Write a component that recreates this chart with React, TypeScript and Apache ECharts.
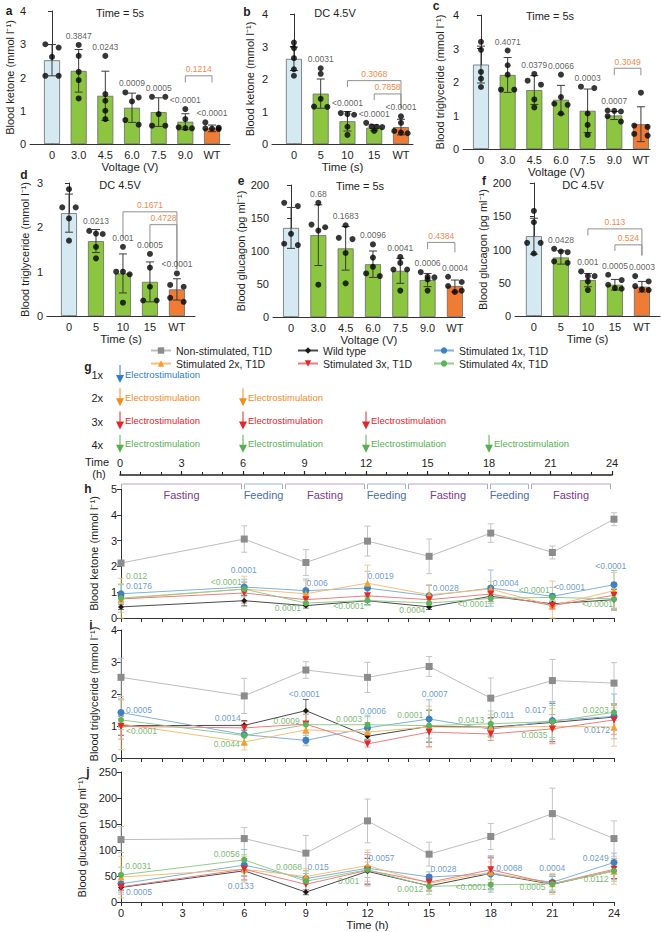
import React, { useEffect, useRef } from 'react';
import * as echarts from 'echarts';

const FONT = '"Liberation Sans", Arial, Helvetica, sans-serif';
const INK = '#1e1e1e';

// ---------------- categories ----------------
const voltageCategories = ['0', '3.0', '4.5', '6.0', '7.5', '9.0', 'WT'];
const dcTimeCategories = ['0', '5', '10', '15', 'WT'];

// ---------------- panel a: ketone vs voltage ----------------
const ketoneVoltMean = [2.52, 2.2, 1.45, 1.09, 0.96, 0.67, 0.47];
const ketoneVoltSD = [0.47, 0.64, 0.74, 0.44, 0.43, 0.24, 0.1];
const ketoneVoltPoints = [
  [3.0, 2.9, 2.62, 2.05, 2.05],
  [2.98, 2.65, 2.17, 1.92, 1.37],
  [2.65, 1.5, 1.3, 1.0, 0.75],
  [1.55, 1.4, 1.28, 0.72, 0.58],
  [1.42, 1.42, 0.9, 0.55, 0.55],
  [1.05, 0.75, 0.5, 0.48, 0.47],
  [0.65, 0.49, 0.47, 0.46, 0.45],
];
const ketoneVoltP = ['', '0.3847', '0.0243', '0.0009', '0.0005', '<0.0001', '<0.0001'];
const ketoneVoltBrackets = [{ from: 5, to: 6, y: 2.05, left: 1.85, right: 1.85, text: '0.1214' }];

// ---------------- panel b: ketone vs DC time ----------------
const ketoneDcMean = [2.62, 1.55, 0.7, 0.5, 0.52];
const ketoneDcSD = [0.36, 0.45, 0.3, 0.09, 0.24];
const ketoneDcPoints = [
  [3.12, 2.95, 2.64, 2.3, 2.1],
  [2.33, 2.16, 1.39, 1.15, 1.14],
  [0.95, 0.92, 0.9, 0.53, 0.28],
  [0.65, 0.54, 0.53, 0.52, 0.4],
  [0.85, 0.65, 0.4, 0.35, 0.33],
];
const ketoneDcP = ['', '0.0031', '<0.0001', '<0.0001', '<0.0001'];
const ketoneDcBrackets = [
  { from: 2, to: 4, y: 1.95, left: 1.75, right: 1.1, text: '0.3068' },
  { from: 3, to: 4, y: 1.54, left: 1.35, right: 1.1, text: '0.7858' },
];

// ---------------- panel c: triglyceride vs voltage ----------------
const trigVoltMean = [2.52, 2.21, 1.76, 1.47, 1.14, 1.0, 0.74];
const trigVoltSD = [0.55, 0.52, 0.43, 0.43, 0.65, 0.12, 0.52];
const trigVoltPoints = [
  [3.2, 2.96, 2.3, 2.1, 1.85],
  [2.94, 2.5, 2.22, 1.77, 1.77],
  [2.24, 2.04, 1.92, 1.48, 1.24],
  [2.22, 1.55, 1.35, 1.32, 1.06],
  [1.86, 1.82, 1.06, 0.72, 0.42],
  [1.15, 1.14, 1.12, 0.98, 0.82],
  [1.68, 0.7, 0.66, 0.45, 0.4],
];
const trigVoltP = ['', '0.4071', '0.0379', '0.0066', '0.0003', '0.0007', ''];
const trigVoltBrackets = [{ from: 5, to: 6, y: 2.41, left: 2.2, right: 2.2, text: '0.3049' }];

// ---------------- panel d: triglyceride vs DC time ----------------
const trigDcMean = [2.32, 1.69, 0.96, 0.77, 0.6];
const trigDcSD = [0.43, 0.26, 0.44, 0.45, 0.24];
const trigDcPoints = [
  [2.86, 2.45, 2.45, 2.2, 1.7],
  [1.92, 1.86, 1.85, 1.56, 1.3],
  [1.56, 1.0, 1.0, 0.94, 0.3],
  [1.4, 1.09, 0.66, 0.35, 0.35],
  [0.96, 0.7, 0.66, 0.41, 0.32],
];
const trigDcP = ['', '0.0213', '0.001', '0.0005', '<0.0001'];
const trigDcBrackets = [
  { from: 2, to: 4, y: 2.35, left: 1.75, right: 1.05, text: '0.1671' },
  { from: 3, to: 4, y: 2.06, left: 1.55, right: 1.05, text: '0.4728' },
];

// ---------------- panel e: glucagon vs voltage ----------------
const glucVoltMean = [135, 124, 104, 80, 70, 56, 47];
const glucVoltSD = [31, 46, 33, 20, 19, 10, 9];
const glucVoltPoints = [
  [173, 168, 126, 111, 109],
  [173, 140, 136, 131, 49],
  [139, 120, 118, 97, 51],
  [110, 90, 76, 66, 62],
  [91, 82, 72, 72, 40],
  [68, 61, 60, 57, 40],
  [61, 53, 47, 40, 38],
];
const glucVoltP = ['', '0.68', '0.1683', '0.0096', '0.0041', '0.0006', '0.0004'];
const glucVoltBrackets = [{ from: 5, to: 6, y: 113, left: 103, right: 98, text: '0.4384' }];

// ---------------- panel f: glucagon vs DC time ----------------
const glucDcMean = [120, 88, 54, 47, 44];
const glucDcSD = [27, 10, 10, 8, 8];
const glucDcPoints = [
  [158, 141, 110, 110, 94],
  [101, 97, 96, 82, 80],
  [67, 60, 60, 52, 39],
  [62, 54, 47, 42, 41],
  [60, 52, 45, 40, 39],
];
const glucDcP = ['', '0.0428', '0.001', '0.0005', '0.0003'];
const glucDcBrackets = [
  { from: 2, to: 4, y: 131, left: 121, right: 91, text: '0.113' },
  { from: 3, to: 4, y: 107, left: 98, right: 91, text: '0.524' },
];

// ---------------- panel g: protocol ----------------
const protocolRows = ['1x', '2x', '3x', '4x'];
const stimulationTimes = [[0], [0, 6], [0, 6, 12], [0, 6, 12, 18]];
const periods = [
  [0, 6, 'Fasting'], [6, 8, 'Feeding'], [8, 12, 'Fasting'], [12, 14, 'Feeding'],
  [14, 18, 'Fasting'], [18, 20, 'Feeding'], [20, 24, 'Fasting'],
];

// ---------------- panels h, i, j: 24 h time courses ----------------
const hours = [0, 6, 9, 12, 15, 18, 21, 24];
const groupNames = [
  'Non-stimulated, T1D', 'Wild type', 'Stimulated 1x, T1D',
  'Stimulated 2x, T1D', 'Stimulated 3x, T1D', 'Stimulated 4x, T1D',
];

const ketoneNonStim = [2.13, 3.06, 2.15, 2.98, 2.39, 3.29, 2.54, 3.83];
const ketoneWT = [0.43, 0.67, 0.48, 0.67, 0.43, 0.84, 0.55, 0.71];
const ketoneS1 = [0.94, 1.2, 1.06, 1.16, 0.86, 1.16, 0.84, 1.29];
const ketoneS2 = [0.74, 1.12, 0.94, 1.35, 0.9, 1.12, 0.48, 1.06];
const ketoneS3 = [0.74, 0.97, 0.71, 0.86, 0.71, 0.93, 0.48, 0.88];
const ketoneS4 = [0.77, 1.12, 0.58, 0.68, 0.58, 0.76, 0.8, 0.74];
const ketoneNonStimSD = [0.1, 0.51, 0.5, 0.58, 0.67, 0.36, 0.25, 0.25];
const ketoneWTSD = [0.1, 0.2, 0.1, 0.15, 0.1, 0.2, 0.1, 0.4];
const ketoneS1SD = [0.35, 0.3, 0.45, 0.65, 0.4, 0.7, 0.35, 0.55];
const ketoneS2SD = [0.8, 0.5, 0.5, 0.7, 0.4, 0.3, 0.95, 0.7];
const ketoneS3SD = [0.2, 0.4, 0.2, 0.25, 0.15, 0.3, 0.15, 0.5];
const ketoneS4SD = [0.55, 0.3, 0.2, 0.2, 0.15, 0.2, 0.15, 0.4];
const ketoneLabels = [
  { t: 0.27, v: 1.59, text: '0.012', c: 'g', a: 'left' },
  { t: 0.27, v: 1.23, text: '0.0176', c: 'b', a: 'left' },
  { t: 6, v: 1.85, text: '0.0001', c: 'b', a: 'center' },
  { t: 5.9, v: 1.38, text: '<0.0001', c: 'g', a: 'right' },
  { t: 9.05, v: 1.32, text: '0.006', c: 'b', a: 'left' },
  { t: 8.78, v: 0.35, text: '0.0001', c: 'g', a: 'right' },
  { t: 12.03, v: 1.59, text: '0.0019', c: 'b', a: 'left' },
  { t: 11.87, v: 0.45, text: '<0.0001', c: 'g', a: 'right' },
  { t: 15.2, v: 1.14, text: '0.0028', c: 'b', a: 'left' },
  { t: 14.84, v: 0.3, text: '0.0004', c: 'g', a: 'right' },
  { t: 18.12, v: 1.35, text: '0.0004', c: 'b', a: 'left' },
  { t: 17.92, v: 0.54, text: '<0.0001', c: 'g', a: 'right' },
  { t: 20.9, v: 1.07, text: '<0.0001', c: 'g', a: 'right' },
  { t: 21.1, v: 1.2, text: '<0.0001', c: 'b', a: 'left' },
  { t: 23.87, v: 2.0, text: '<0.0001', c: 'b', a: 'center' },
  { t: 23.98, v: 0.52, text: '<0.0001', c: 'g', a: 'right' },
];

const trigNonStim = [2.52, 1.94, 2.75, 2.52, 2.86, 1.87, 2.42, 2.34];
const trigWT = [1.01, 1.02, 1.48, 0.68, 0.99, 0.96, 1.11, 1.28];
const trigS1 = [1.42, 0.73, 0.55, 0.94, 1.22, 0.9, 1.17, 1.3];
const trigS2 = [1.06, 0.5, 0.88, 0.81, 0.97, 0.95, 0.99, 0.97];
const trigS3 = [0.99, 0.94, 1.06, 0.44, 0.81, 0.75, 0.91, 1.19];
const trigS4 = [1.19, 0.7, 1.04, 1.04, 1.01, 1.07, 1.14, 1.43];
const trigNonStimSD = [0.6, 0.55, 0.26, 0.47, 0.31, 0.63, 0.66, 0.64];
const trigWTSD = [0.3, 0.15, 0.35, 0.1, 0.5, 0.3, 0.6, 0.4];
const trigS1SD = [0.4, 0.3, 0.15, 0.35, 0.6, 0.2, 0.6, 0.7];
const trigS2SD = [0.8, 0.25, 0.5, 0.3, 0.65, 0.4, 0.55, 0.6];
const trigS3SD = [0.4, 0.2, 0.3, 0.1, 0.45, 0.2, 0.45, 0.45];
const trigS4SD = [0.3, 0.3, 0.4, 0.3, 0.5, 0.4, 0.5, 0.25];
const trigLabels = [
  { t: 0.27, v: 1.5, text: '0.0005', c: 'b', a: 'left' },
  { t: 0.27, v: 0.83, text: '<0.0001', c: 'g', a: 'left' },
  { t: 5.85, v: 1.25, text: '0.0014', c: 'b', a: 'right' },
  { t: 5.8, v: 0.42, text: '0.0044', c: 'g', a: 'right' },
  { t: 8.72, v: 1.14, text: '0.0009', c: 'g', a: 'right' },
  { t: 8.95, v: 2.0, text: '<0.0001', c: 'b', a: 'center' },
  { t: 11.76, v: 1.19, text: '0.0003', c: 'g', a: 'right' },
  { t: 11.66, v: 1.45, text: '0.0006', c: 'b', a: 'left' },
  { t: 14.74, v: 1.32, text: '0.0001', c: 'g', a: 'right' },
  { t: 15.3, v: 2.0, text: '0.0007', c: 'b', a: 'center' },
  { t: 17.71, v: 1.17, text: '0.0413', c: 'g', a: 'right' },
  { t: 18.16, v: 1.32, text: '0.011', c: 'b', a: 'left' },
  { t: 20.73, v: 1.5, text: '0.017', c: 'b', a: 'right' },
  { t: 20.79, v: 0.7, text: '0.0035', c: 'g', a: 'right' },
  { t: 23.77, v: 1.47, text: '0.0203', c: 'g', a: 'right' },
  { t: 23.83, v: 0.85, text: '0.0172', c: 'b', a: 'right' },
];

const glucNonStim = [120, 122, 94, 156, 92, 126, 170, 122];
const glucWT = [28, 60, 19, 59, 31, 55, 34, 60];
const glucS1 = [35, 71, 45, 65, 48, 54, 38, 76];
const glucS2 = [48, 63, 49, 70, 36, 57, 35, 59];
const glucS3 = [29, 63, 34, 61, 38, 62, 35, 63];
const glucS4 = [52, 81, 40, 62, 30, 33, 35, 60];
const glucNonStimSD = [25, 21, 34, 42, 23, 25, 49, 34];
const glucWTSD = [5, 10, 5, 25, 10, 30, 15, 15];
const glucS1SD = [20, 30, 10, 30, 10, 35, 15, 18];
const glucS2SD = [40, 25, 15, 30, 15, 20, 20, 25];
const glucS3SD = [10, 20, 10, 30, 15, 25, 15, 20];
const glucS4SD = [15, 10, 20, 15, 15, 10, 15, 20];
const glucLabels = [
  { t: 0.23, v: 68, text: '0.0031', c: 'g', a: 'left' },
  { t: 0.27, v: 18.5, text: '0.0005', c: 'b', a: 'left' },
  { t: 5.8, v: 90.5, text: '0.0056', c: 'g', a: 'right' },
  { t: 5.85, v: 29, text: '0.0133', c: 'b', a: 'center' },
  { t: 8.83, v: 67, text: '0.0068', c: 'g', a: 'right' },
  { t: 9.1, v: 67, text: '0.015', c: 'b', a: 'left' },
  { t: 12.07, v: 83, text: '0.0057', c: 'b', a: 'left' },
  { t: 11.62, v: 40, text: '0.001', c: 'g', a: 'right' },
  { t: 15.09, v: 62, text: '0.0028', c: 'b', a: 'left' },
  { t: 14.74, v: 25, text: '0.0012', c: 'g', a: 'right' },
  { t: 18.29, v: 65, text: '0.0068', c: 'b', a: 'left' },
  { t: 17.82, v: 27, text: '<0.0001', c: 'g', a: 'right' },
  { t: 21.02, v: 65, text: '0.0004', c: 'b', a: 'center' },
  { t: 20.69, v: 27, text: '0.0005', c: 'g', a: 'right' },
  { t: 23.77, v: 84, text: '0.0249', c: 'b', a: 'right' },
  { t: 23.77, v: 43, text: '0.0112', c: 'g', a: 'right' },
];

// ---------------- styles / layout ----------------
const groupStyles = [
  { symbol: 'rect', size: 7, rotate: 0, marker: '#8c8c8c', line: '#bdbdbd', err: '#c4c4c4' },
  { symbol: 'diamond', size: 6, rotate: 0, marker: '#1a1a1a', line: '#4a4a4a', err: '#6a6a6a' },
  { symbol: 'circle', size: 7, rotate: 0, marker: '#3a82c4', line: '#7fb0dc', err: '#98c0e2' },
  { symbol: 'triangle', size: 7, rotate: 0, marker: '#f4a02e', line: '#f4bf73', err: '#f3c88c' },
  { symbol: 'triangle', size: 7, rotate: 180, marker: '#e2282d', line: '#ea7f80', err: '#ef9b9b' },
  { symbol: 'circle', size: 6, rotate: 0, marker: '#5cb35a', line: '#93cc8f', err: '#a6d5a3' },
];
const labelColors: Record<string, string> = { b: '#3f82c4', g: '#55a84b' };
const rowColors = ['#2f7dc2', '#f28c1f', '#e1262c', '#56b052'];
const periodColors: Record<string, [string, string]> = {
  Fasting: ['#7b3b8e', '#bba1c9'],
  Feeding: ['#4a6fa8', '#9fb3d4'],
};

type Bracket = { from: number; to: number; y: number; left: number; right: number; text: string };
type BarPanel = {
  cats: string[]; means: number[]; sds: number[]; points: number[][]; pvals: string[];
  brackets: Bracket[]; ymax: number; yint: number; yname: string; xname: string;
  grid: { left: number; top: number; width: number; height: number };
  xmin: number; xmax: number; nameGap: number; xNameGap: number;
};

const barPanels: BarPanel[] = [
  { cats: voltageCategories, means: ketoneVoltMean, sds: ketoneVoltSD, points: ketoneVoltPoints, pvals: ketoneVoltP, brackets: ketoneVoltBrackets,
    ymax: 4, yint: 1, yname: 'Blood ketone (mmol l⁻¹)', xname: 'Voltage (V)',
    grid: { left: 30, top: 11, width: 200, height: 133 }, xmin: -0.825, xmax: 6.675, nameGap: 13, xNameGap: 15 },
  { cats: dcTimeCategories, means: ketoneDcMean, sds: ketoneDcSD, points: ketoneDcPoints, pvals: ketoneDcP, brackets: ketoneDcBrackets,
    ymax: 4, yint: 1, yname: 'Blood ketone (mmol l⁻¹)', xname: 'Time (s)',
    grid: { left: 272, top: 14, width: 141, height: 130 }, xmin: -0.82, xmax: 4.45, nameGap: 17, xNameGap: 16 },
  { cats: voltageCategories, means: trigVoltMean, sds: trigVoltSD, points: trigVoltPoints, pvals: trigVoltP, brackets: trigVoltBrackets,
    ymax: 4, yint: 1, yname: 'Blood triglyceride (mmol l⁻¹)', xname: 'Voltage (V)',
    grid: { left: 463, top: 15, width: 187, height: 134 }, xmin: -0.675, xmax: 6.34, nameGap: 18, xNameGap: 15 },
  { cats: dcTimeCategories, means: trigDcMean, sds: trigDcSD, points: trigDcPoints, pvals: trigDcP, brackets: trigDcBrackets,
    ymax: 3, yint: 1, yname: 'Blood triglyceride (mmol l⁻¹)', xname: 'Time (s)',
    grid: { left: 47, top: 183, width: 148, height: 133 }, xmin: -0.815, xmax: 4.67, nameGap: 17, xNameGap: 13 },
  { cats: voltageCategories, means: glucVoltMean, sds: glucVoltSD, points: glucVoltPoints, pvals: glucVoltP, brackets: glucVoltBrackets,
    ymax: 200, yint: 50, yname: 'Blood glucagon (pg ml⁻¹)', xname: 'Voltage (V)',
    grid: { left: 273, top: 185, width: 192, height: 132 }, xmin: -0.66, xmax: 6.37, nameGap: 22, xNameGap: 12 },
  { cats: dcTimeCategories, means: glucDcMean, sds: glucDcSD, points: glucDcPoints, pvals: glucDcP, brackets: glucDcBrackets,
    ymax: 200, yint: 50, yname: 'Blood glucagon (pg ml⁻¹)', xname: 'Time (s)',
    grid: { left: 515, top: 183, width: 145, height: 133 }, xmin: -0.7, xmax: 4.67, nameGap: 21, xNameGap: 13 },
];

const tsPanels = [
  { series: [ketoneNonStim, ketoneWT, ketoneS1, ketoneS2, ketoneS3, ketoneS4],
    sds: [ketoneNonStimSD, ketoneWTSD, ketoneS1SD, ketoneS2SD, ketoneS3SD, ketoneS4SD],
    labels: ketoneLabels, ymax: 5, yint: 1, yname: 'Blood ketone (mmol l⁻¹)',
    grid: { left: 121, top: 489, width: 493, height: 129 }, nameGap: 22 },
  { series: [trigNonStim, trigWT, trigS1, trigS2, trigS3, trigS4],
    sds: [trigNonStimSD, trigWTSD, trigS1SD, trigS2SD, trigS3SD, trigS4SD],
    labels: trigLabels, ymax: 4, yint: 1, yname: 'Blood triglyceride (mmol l⁻¹)',
    grid: { left: 121, top: 630, width: 493, height: 128 }, nameGap: 22 },
  { series: [glucNonStim, glucWT, glucS1, glucS2, glucS3, glucS4],
    sds: [glucNonStimSD, glucWTSD, glucS1SD, glucS2SD, glucS3SD, glucS4SD],
    labels: glucLabels, ymax: 250, yint: 50, yname: 'Blood glucagon (pg ml⁻¹)',
    grid: { left: 121, top: 772, width: 493, height: 130 }, nameGap: 24 },
];

// ---------------- helpers ----------------
function swarm(vals: number[], pxPerUnit: number): number[] {
  const order = vals.map((_, i) => i).sort((a, b) => vals[b] - vals[a]);
  const offs = new Array(vals.length).fill(0);
  let cluster: number[] = [];
  const flush = () => {
    const k = cluster.length;
    if (k < 2) return;
    const step = Math.min(k === 2 ? 0.5 : 0.25, 0.6 / (k - 1));
    cluster.forEach((id, j) => { offs[id] = (j - (k - 1) / 2) * step; });
  };
  order.forEach((id) => {
    if (cluster.length && (vals[cluster[0]] - vals[id]) * pxPerUnit > 5.5) {
      flush();
      cluster = [];
    }
    cluster.push(id);
  });
  flush();
  return offs;
}

const errRender = (color: string, cap: number) => (params: any, api: any) => {
  const x = api.value(0), m = api.value(1), s = api.value(2);
  const t = api.coord([x, m + s]);
  const b = api.coord([x, Math.max(0, m - s)]);
  const st = { stroke: color, lineWidth: 1 };
  return {
    type: 'group',
    children: [
      { type: 'line', shape: { x1: t[0], y1: t[1], x2: b[0], y2: b[1] }, style: st },
      { type: 'line', shape: { x1: t[0] - cap, y1: t[1], x2: t[0] + cap, y2: t[1] }, style: st },
      { type: 'line', shape: { x1: b[0] - cap, y1: b[1], x2: b[0] + cap, y2: b[1] }, style: st },
    ],
  };
};

const bracketRender = (brs: Bracket[]) => (params: any, api: any) => {
  const b = brs[params.dataIndex];
  const a = api.coord([b.from, b.y]);
  const c = api.coord([b.to, b.y]);
  const la = api.coord([b.from, b.left]);
  const rc = api.coord([b.to, b.right]);
  return {
    type: 'group',
    children: [
      { type: 'polyline', shape: { points: [[la[0], la[1]], [a[0], a[1]], [c[0], c[1]], [rc[0], rc[1]]] },
        style: { stroke: '#8f8f8f', lineWidth: 1, fill: 'none' } },
      { type: 'text', x: (a[0] + c[0]) / 2, y: a[1] - 2,
        style: { text: b.text, fill: '#ee8a4d', fontSize: 8.5, fontFamily: FONT, align: 'center', verticalAlign: 'bottom' } },
    ],
  };
};

function buildOption() {
  const grid: any[] = [];
  const xAxis: any[] = [];
  const yAxis: any[] = [];
  const series: any[] = [];
  const axisLine = { show: true, lineStyle: { color: '#333', width: 1 } };
  const labelStyle = { fontSize: 11, color: INK, fontFamily: FONT };

  barPanels.forEach((p, gi) => {
    grid.push({ ...p.grid });
    const idx = p.cats.map((_, i) => i);
    xAxis.push({
      gridIndex: gi, type: 'value', min: p.xmin, max: p.xmax,
      axisLine, axisTick: { show: false }, splitLine: { show: false },
      axisLabel: { ...labelStyle, margin: 5, lineHeight: 11, customValues: idx, formatter: (v: number) => p.cats[Math.round(v)] ?? '' },
      name: p.xname, nameLocation: 'middle', nameGap: p.xNameGap,
      nameTextStyle: { fontSize: 11.5, color: INK, fontFamily: FONT, lineHeight: 12, verticalAlign: 'top' },
    });
    yAxis.push({
      gridIndex: gi, type: 'value', min: 0, max: p.ymax, interval: p.yint,
      axisLine, axisTick: { show: true, length: 4, lineStyle: { color: '#333' } }, splitLine: { show: false },
      axisLabel: { ...labelStyle, margin: 4 },
      name: p.yname, nameLocation: 'middle', nameGap: p.nameGap, nameRotate: 90,
      nameTextStyle: { fontSize: 11, color: INK, fontFamily: FONT },
    });
    const n = p.cats.length;
    const ppu = p.grid.height / p.ymax;
    const fill = (i: number) => (i === 0 ? '#d4e9f1' : i === n - 1 ? '#ef7b35' : '#8cc540');
    series.push({
      type: 'bar', xAxisIndex: gi, yAxisIndex: gi, barWidth: 16, silent: true, z: 2,
      data: p.means.map((m, i) => ({ value: [i, m], itemStyle: { color: fill(i), borderColor: '#6a6a6a', borderWidth: 0.8 } })),
    });
    series.push({
      type: 'custom', xAxisIndex: gi, yAxisIndex: gi, z: 3, silent: true,
      data: p.means.map((m, i) => [i, m, p.sds[i]]), renderItem: errRender('#3a3a3a', 4),
    });
    const dots: number[][] = [];
    p.points.forEach((vals, i) => {
      const offs = swarm(vals, ppu);
      vals.forEach((v, j) => dots.push([i + offs[j], v]));
    });
    series.push({
      type: 'scatter', xAxisIndex: gi, yAxisIndex: gi, z: 4, silent: true, symbolSize: 6,
      itemStyle: { color: '#050505' }, data: dots,
    });
    series.push({
      type: 'scatter', xAxisIndex: gi, yAxisIndex: gi, z: 5, silent: true, symbolSize: 1,
      itemStyle: { color: 'rgba(0,0,0,0)' },
      data: p.pvals.map((t, i) => ({ name: t, value: [i, Math.max(p.means[i] + p.sds[i], ...p.points[i])] })).filter((d) => d.name),
      label: { show: true, position: 'top', distance: 4, formatter: '{b}', fontSize: 8.5, color: '#333', fontFamily: FONT },
    });
    series.push({
      type: 'custom', xAxisIndex: gi, yAxisIndex: gi, z: 5, silent: true,
      data: p.brackets.map((b) => [b.from, b.to, b.y]), renderItem: bracketRender(p.brackets),
    });
  });

  // ---- panel g: protocol timeline (grid index 6)
  const gG = 6;
  grid.push({ left: 120, top: 375, width: 492, height: 100 });
  xAxis.push({
    gridIndex: gG, type: 'value', min: 0, max: 24, interval: 3,
    axisLine: { show: true, lineStyle: { color: '#222', width: 1.5 } },
    axisTick: { show: true, inside: true, length: 4, lineStyle: { color: '#222', width: 1.2 } },
    minorTick: { show: true, splitNumber: 3, length: 3, lineStyle: { color: '#222', width: 1 } },
    splitLine: { show: false },
    axisLabel: { ...labelStyle, inside: true, margin: 7 },
  });
  yAxis.push({
    gridIndex: gG, type: 'value', min: 0, max: 4.3,
    axisLine: { show: false }, axisTick: { show: false }, splitLine: { show: false },
    axisLabel: { ...labelStyle, margin: 17, customValues: protocolRows.map((_, r) => 4.3 - r),
      formatter: (v: number) => protocolRows[Math.round(4.3 - v)] ?? '' },
  });
  const arrowData: number[][] = [];
  stimulationTimes.forEach((ts, r) => ts.forEach((t) => arrowData.push([t, 4.3 - r, r])));
  series.push({
    type: 'custom', xAxisIndex: gG, yAxisIndex: gG, silent: true, data: arrowData,
    renderItem: (params: any, api: any) => {
      const p = api.coord([api.value(0), api.value(1)]);
      const col = rowColors[api.value(2)];
      return {
        type: 'group',
        children: [
          { type: 'line', shape: { x1: p[0], y1: p[1] - 10, x2: p[0], y2: p[1] + 1 }, style: { stroke: col, lineWidth: 1 } },
          { type: 'polygon', shape: { points: [[p[0] - 4, p[1]], [p[0] + 4, p[1]], [p[0], p[1] + 8]] }, style: { fill: col } },
          { type: 'text', x: p[0] + 5, y: p[1] - 1,
            style: { text: 'Electrostimulation', fill: col, fontSize: 9.5, fontFamily: FONT, verticalAlign: 'middle' } },
        ],
      };
    },
  });
  series.push({
    type: 'custom', xAxisIndex: gG, yAxisIndex: gG, silent: true,
    data: periods.map((p) => [p[0], p[1], 0]),
    renderItem: (params: any, api: any) => {
      const per = periods[params.dataIndex];
      const [txt, line] = periodColors[per[2] as string];
      const a = api.coord([api.value(0), 0]);
      const b = api.coord([api.value(1), 0]);
      const x1 = a[0] + 1.5, x2 = b[0] - 1.5, y = a[1] + 9;
      return {
        type: 'group',
        children: [
          { type: 'polyline', shape: { points: [[x1, y + 5], [x1, y], [x2, y], [x2, y + 5]] },
            style: { stroke: line, lineWidth: 1, fill: 'none' } },
          { type: 'text', x: (x1 + x2) / 2, y: y + 11,
            style: { text: per[2], fill: txt, fontSize: 11, fontFamily: FONT, align: 'center', verticalAlign: 'middle' } },
        ],
      };
    },
  });

  // ---- panels h, i, j
  tsPanels.forEach((p, k) => {
    const gi = 7 + k;
    const last = k === tsPanels.length - 1;
    grid.push({ ...p.grid });
    xAxis.push({
      gridIndex: gi, type: 'value', min: 0, max: 24, interval: 1,
      axisLine, axisTick: { show: true, length: 4, lineStyle: { color: '#333' } }, splitLine: { show: false },
      axisLabel: last ? { ...labelStyle, margin: 5, formatter: (v: number) => (v % 3 === 0 ? String(v) : '') } : { show: false },
      name: last ? 'Time (h)' : '', nameLocation: 'middle', nameGap: 17,
      nameTextStyle: { fontSize: 11.5, color: INK, fontFamily: FONT },
    });
    yAxis.push({
      gridIndex: gi, type: 'value', min: 0, max: p.ymax, interval: p.yint,
      axisLine, axisTick: { show: true, length: 4, lineStyle: { color: '#333' } }, splitLine: { show: false },
      axisLabel: { ...labelStyle, margin: 4 },
      name: p.yname, nameLocation: 'middle', nameGap: p.nameGap, nameRotate: 90,
      nameTextStyle: { fontSize: 11, color: INK, fontFamily: FONT },
    });
    p.series.forEach((vals, s) => {
      const st = groupStyles[s];
      series.push({
        type: 'custom', xAxisIndex: gi, yAxisIndex: gi, silent: true, z: 2,
        data: hours.map((h, i) => [h, vals[i], p.sds[s][i]]), renderItem: errRender(st.err, 3),
      });
    });
    p.series.forEach((vals, s) => {
      const st = groupStyles[s];
      series.push({
        type: 'line', name: groupNames[s], xAxisIndex: gi, yAxisIndex: gi, z: 3, silent: true,
        symbol: st.symbol, symbolSize: st.size, symbolRotate: st.rotate, showAllSymbol: true,
        itemStyle: { color: st.marker }, lineStyle: { color: st.line, width: 1 },
        data: hours.map((h, i) => [h, vals[i]]),
      });
    });
    series.push({
      type: 'scatter', xAxisIndex: gi, yAxisIndex: gi, z: 6, silent: true, symbolSize: 1,
      itemStyle: { color: 'rgba(0,0,0,0)' },
      data: p.labels.map((l) => ({
        name: l.text, value: [l.t, l.v],
        label: { align: l.a, color: labelColors[l.c] },
      })),
      label: { show: true, position: [0, 0], verticalAlign: 'middle', formatter: '{b}', fontSize: 8.5, fontFamily: FONT },
    });
  });

  const legendBase = {
    orient: 'vertical', top: 345, padding: 0, itemWidth: 20, itemHeight: 8, itemGap: 2,
    textStyle: { fontSize: 10.5, color: INK, fontFamily: FONT, lineHeight: 11 },
    selectedMode: false,
  };

  const txt = (x: number, y: number, text: string, size: number, extra: any = {}) => ({
    type: 'text', x, y, silent: true,
    style: { text, fill: INK, fontSize: size, fontFamily: FONT, align: 'center', verticalAlign: 'middle', ...extra },
  });

  const graphic = [
    txt(9, 11, 'a', 12, { fontWeight: 'bold' }),
    txt(247, 12, 'b', 12, { fontWeight: 'bold' }),
    txt(436, 6, 'c', 12, { fontWeight: 'bold' }),
    txt(24, 175, 'd', 12, { fontWeight: 'bold' }),
    txt(241, 181, 'e', 12, { fontWeight: 'bold' }),
    txt(484, 181, 'f', 12, { fontWeight: 'bold' }),
    txt(88, 367, 'g', 12, { fontWeight: 'bold' }),
    txt(88, 489, 'h', 12, { fontWeight: 'bold' }),
    txt(91, 625, 'i', 12, { fontWeight: 'bold' }),
    txt(88, 772, 'j', 12, { fontWeight: 'bold' }),
    txt(120, 13, 'Time = 5s', 11),
    txt(335, 13, 'DC 4.5V', 11),
    txt(550, 16, 'Time = 5s', 11),
    txt(120, 185, 'DC 4.5V', 11),
    txt(360, 186, 'Time = 5s', 11),
    txt(583, 185, 'DC 4.5V', 11),
    txt(97, 462, 'Time', 11),
    txt(99, 474, '(h)', 11),
  ];

  return {
    animation: false,
    textStyle: { fontFamily: FONT },
    grid, xAxis, yAxis, series, graphic,
    legend: [
      { ...legendBase, left: 150, data: [groupNames[0], groupNames[3]] },
      { ...legendBase, left: 297, data: [groupNames[1], groupNames[4]] },
      { ...legendBase, left: 433, data: [groupNames[2], groupNames[5]] },
    ],
  };
}

export default function App() {
  const ref = useRef<HTMLDivElement>(null);
  useEffect(() => {
    if (!ref.current) return;
    const chart = echarts.init(ref.current, undefined, { renderer: 'svg' });
    chart.setOption(buildOption() as any);
    return () => chart.dispose();
  }, []);
  return (
    <div
      ref={ref}
      style={{ position: 'absolute', left: 0, top: 0, width: 661, height: 932, background: '#fff' }}
    />
  );
}
